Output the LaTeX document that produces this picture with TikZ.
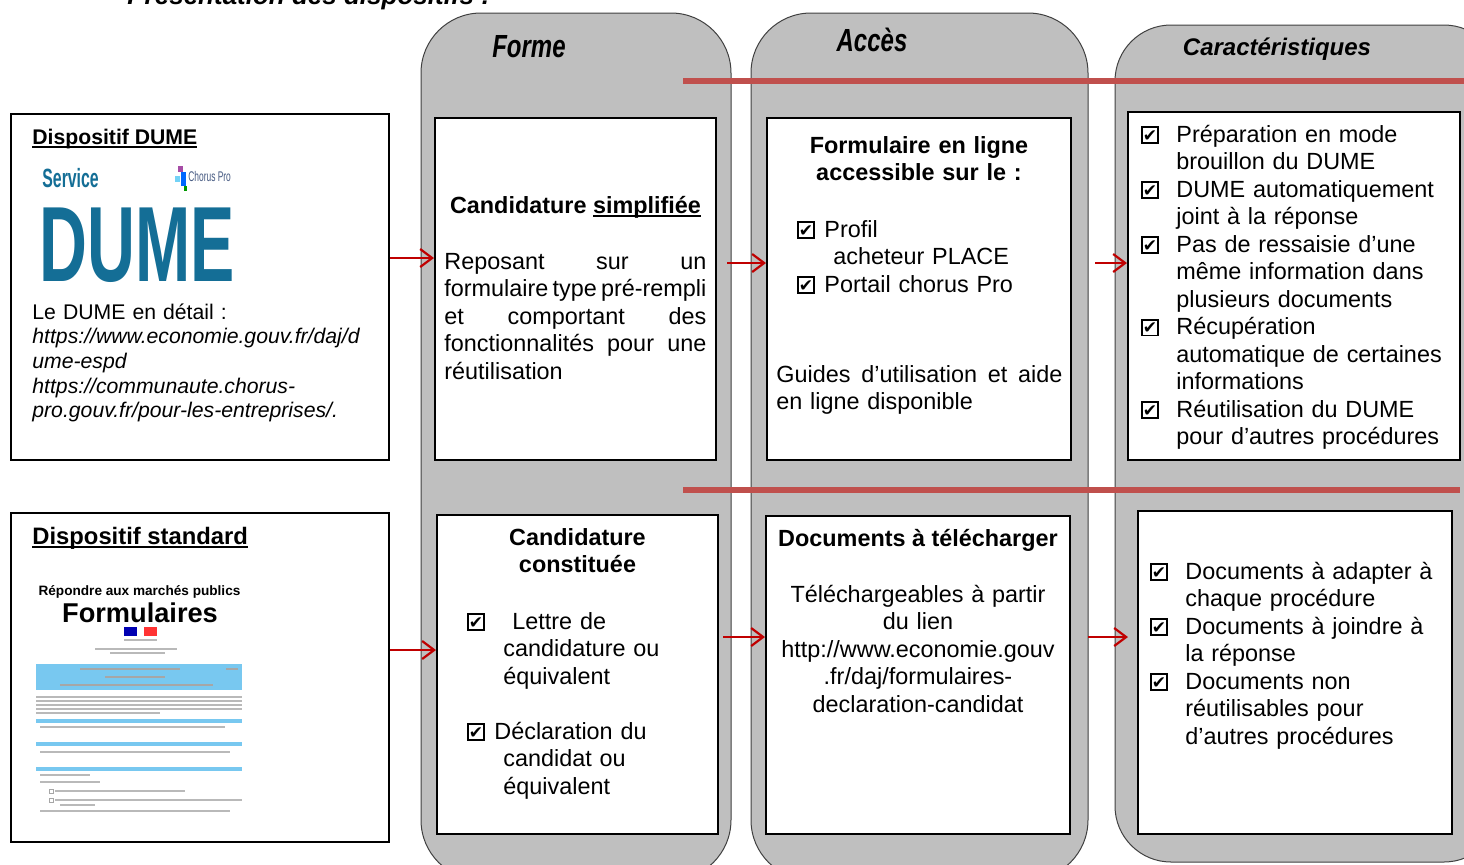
\documentclass[tikz,border=0pt]{standalone}
\usepackage{fontspec}
\setmainfont{Liberation Sans}
\newfontfamily\symfont{DejaVu Sans}
\usetikzlibrary{arrows.meta}
\definecolor{colgray}{RGB}{191,191,191}
\definecolor{sepred}{RGB}{192,80,77}
\definecolor{arrowred}{RGB}{192,0,0}
\definecolor{dumeblue}{RGB}{20,110,150}
\definecolor{formblue}{RGB}{120,200,240}
\definecolor{chorusgray}{RGB}{70,90,130}
\newcommand\bodyfont{\fontsize{11.7}{13.75}\selectfont}
\newcommand\ckbox{{\setlength\fboxsep{0pt}\setlength\fboxrule{0.85pt}\fbox{\makebox[7pt]{\rule{0pt}{7pt}\raisebox{0.4pt}{\symfont\fontsize{8.5}{8.5}\selectfont ✔}}}}}
\newcommand\cb[1]{\makebox[#1][l]{\ckbox}}
\newcommand\ind[1]{\hspace*{#1}}
\newcommand\uln[1]{\setbox0\hbox{#1}\rlap{\rule[-1.8pt]{\wd0}{0.9pt}}\box0}

\begin{document}
\begin{tikzpicture}[x=0.5pt,y=-0.5pt,
    colbox/.style={draw=black!75,fill=colgray,line width=0.5pt,rounded corners=30pt,inner sep=0pt},
    whitebox/.style={draw=black,fill=white,line width=1pt,inner sep=0pt},
    hdr/.style={anchor=base,font=\bfseries\itshape\fontsize{16}{16}\selectfont},
    sepline/.style={draw=sepred,line width=3pt},
    formline/.style={draw=gray!55,line width=0.9pt},
    formbar/.style={fill=formblue,draw=none}]
  \useasboundingbox (0,0) rectangle (1464,864);
  \clip (0,0) rectangle (1464,864);

  % title, cut by the page
  \node[anchor=base west,inner sep=0pt,font=\bfseries\itshape\fontsize{13}{13}\selectfont] (title) at (127,4) {Présentation des dispositifs :};

  % the three columns
  \node[colbox,minimum width=155pt,minimum height=433.5pt] (colforme) at (576,446.5) {};
  \node[colbox,minimum width=168.5pt,minimum height=433.5pt] (colacces) at (919.5,446.5) {};
  \node[colbox,rounded corners=28pt,minimum width=192.5pt,minimum height=418.5pt] (colcarac) at (1307.5,443.5) {};
  \node[hdr] (hforme) at (529,57) {\scalebox{0.75}[1]{Forme}};
  \node[hdr] (hacces) at (872,51) {\scalebox{0.75}[1]{Accès}};
  \node[anchor=base,font=\bfseries\itshape\fontsize{12}{12}\selectfont] (hcarac) at (1277,55) {Caractéristiques};

  \draw[sepline] (683,81) -- (1464,81);
  \draw[sepline] (683,490) -- (1460,490);

  % boxes
  \begin{scope}[every node/.style={whitebox}]
    \node[minimum width=189pt,minimum height=173pt] (dume) at (200,287) {};
    \node[minimum width=189pt,minimum height=164.5pt] (standard) at (200,677.5) {};
    \node[minimum width=140.5pt,minimum height=171pt] (forme1) at (575.5,289) {};
    \node[minimum width=140.5pt,minimum height=159.5pt] (forme2) at (577.5,674.5) {};
    \node[minimum width=152pt,minimum height=171pt] (acces1) at (919,289) {};
    \node[minimum width=152pt,minimum height=159pt] (acces2) at (918,675) {};
    \node[minimum width=166pt,minimum height=174pt] (carac1) at (1294,286) {};
    \node[minimum width=157pt,minimum height=161.5pt] (carac2) at (1295,672.5) {};
  \end{scope}

  \begin{scope}[every node/.style={inner sep=0pt}]
    % Dispositif DUME
    \node[anchor=base west,font=\bfseries\fontsize{10.6}{10.6}\selectfont] (dumehead) at (32,144) {\uln{Dispositif DUME}};
    \node[anchor=base west,text=dumeblue,font=\bfseries\fontsize{13.2}{13.2}\selectfont] (service) at (42,187) {\scalebox{0.6}[1]{Service}};
    \node[anchor=base west,text=dumeblue,font=\bfseries\fontsize{53.5}{53.5}\selectfont] (dumelogo) at (39,281) {\scalebox{0.62}[1]{DUME}};
    \fill[violet!70] (178,166) rectangle (183,172);
    \fill[cyan!55] (175,176) rectangle (180,182);
    \fill[blue!60!cyan] (181,172) rectangle (186,186);
    \fill[green!60!black] (184,186) rectangle (187,191);
    \node[anchor=base west,text=chorusgray,font=\fontsize{7}{7}\selectfont] (chorus) at (188,181) {\scalebox{0.6}[1]{Chorus Pro}};
    \node[anchor=base west,text width=180pt,align=left,font=\fontsize{10.6}{12.35}\selectfont] (dumetext) at (32,319) {Le DUME en détail :\\ \textit{https://www.economie.gouv.fr/daj/d}\\ \textit{ume-espd}\\ \textit{https://communaute.chorus-}\\ \textit{pro.gouv.fr/pour-les-entreprises/.}};

    % Dispositif standard
    \node[anchor=base west,font=\bfseries\fontsize{11.9}{11.9}\selectfont] (standardhead) at (32,544) {\uln{Dispositif standard}};
    \node[font=\bfseries\fontsize{6.8}{6.8}\selectfont] (formsub) at (139.5,592) {Répondre aux marchés publics};
    \node[font=\bfseries\fontsize{13.6}{13.6}\selectfont] (formtitle) at (140,613) {Formulaires};
    \fill[blue!70!black] (124,627) rectangle (137,636);
    \fill[red!80] (144,627) rectangle (157,636);
    \draw[formline] (124,640) -- (157,640) (95,649) -- (177,649) (110,653) -- (165,653);
    \fill[formblue] (36,664) rectangle (242,690);
    \draw[formline,draw=gray!70] (80,669) -- (180,669) (226,669) -- (238,669) (105,677) -- (165,677) (60,685) -- (213,685);
    \draw[formline] (36,697) -- (242,697) (36,701) -- (242,701) (36,705) -- (242,705) (36,709) -- (242,709) (36,713) -- (160,713);
    \fill[formblue] (36,719) rectangle (242,723);
    \draw[formline] (40,727) -- (225,727);
    \fill[formblue] (36,742) rectangle (242,746);
    \draw[formline] (40,752) -- (230,752);
    \fill[formblue] (36,767) rectangle (242,771);
    \draw[formline] (40,775) -- (90,775) (40,782) -- (100,782) (55,791) -- (185,791) (55,800) -- (242,800) (60,805) -- (95,805) (40,811) -- (230,811);
    \draw[gray!70,line width=0.4pt] (49,789) rectangle (53,793) (49,798) rectangle (53,802);

    % column Forme
    \node[anchor=base,font=\bodyfont\bfseries] (forme1head) at (575.5,213) {Candidature \uln{simplifiée}};
    \node[anchor=base west,text width=131pt,align=left,font=\bodyfont] (forme1text) at (444,269) {\makebox[131pt]{Reposant\hfill sur\hfill un}\\ \makebox[131pt]{formulaire\hfill type\hfill pré-rempli}\\ \makebox[131pt]{et\hfill comportant\hfill des}\\ \makebox[131pt]{fonctionnalités\hfill pour\hfill une}\\ réutilisation};
    \node[anchor=base,text width=140pt,align=center,font=\bodyfont\bfseries] (forme2head) at (577.5,545) {Candidature\\constituée};
    \node[anchor=base west,text width=125pt,align=left,font=\bodyfont] (forme2list) at (467,629) {\cb{22.5pt}Lettre de\\ \ind{18pt}candidature ou\\ \ind{18pt}équivalent\\[13.75pt] \cb{13.5pt}Déclaration du\\ \ind{18pt}candidat ou\\ \ind{18pt}équivalent};

    % column Acces
    \node[anchor=base,text width=150pt,align=center,font=\bodyfont\bfseries] (acces1head) at (919,153) {Formulaire en ligne\\accessible sur le :};
    \node[anchor=base west,text width=130pt,align=left,font=\bodyfont] (acces1list) at (797,237) {\cb{13.5pt}Profil\\ \ind{18pt}acheteur PLACE\\ \cb{13.5pt}Portail chorus Pro};
    \node[anchor=base west,text width=143pt,align=left,font=\bodyfont] (acces1text) at (776,382) {\makebox[143pt]{Guides\hfill d’utilisation\hfill et\hfill aide}\\ en ligne disponible};
    \node[anchor=base,font=\bodyfont\bfseries] (acces2head) at (918,546) {Documents à télécharger};
    \node[anchor=base,text width=150pt,align=center,font=\bodyfont] (acces2text) at (918,602) {Téléchargeables à partir\\du lien\\http://www.economie.gouv\\.fr/daj/formulaires-\\declaration-candidat};

    % column Caracteristiques
    \node[anchor=base west,text width=160pt,align=left,font=\bodyfont] (carac1list) at (1141,142) {\cb{17.5pt}Préparation en mode\\ \ind{17.5pt}brouillon du DUME\\ \cb{17.5pt}DUME automatiquement\\ \ind{17.5pt}joint à la réponse\\ \cb{17.5pt}Pas de ressaisie d’une\\ \ind{17.5pt}même information dans\\ \ind{17.5pt}plusieurs documents\\ \cb{17.5pt}Récupération\\ \ind{17.5pt}automatique de certaines\\ \ind{17.5pt}informations\\ \cb{17.5pt}Réutilisation du DUME\\ \ind{17.5pt}pour d’autres procédures};
    \node[anchor=base west,text width=150pt,align=left,font=\bodyfont] (carac2list) at (1150,579) {\cb{17.5pt}Documents à adapter à\\ \ind{17.5pt}chaque procédure\\ \cb{17.5pt}Documents à joindre à\\ \ind{17.5pt}la réponse\\ \cb{17.5pt}Documents non\\ \ind{17.5pt}réutilisables pour\\ \ind{17.5pt}d’autres procédures};
  \end{scope}

  % arrows
  \begin{scope}[>={Straight Barb[length=6pt,width=9pt]},
      every edge/.style={draw=arrowred,line width=1.1pt}]
    \path [->] ([yshift=14.5pt]dume.east) edge ([yshift=15.5pt]forme1.west);
    \path [->] ([xshift=5pt,yshift=13pt]forme1.east) edge ([yshift=13pt]acces1.west);
    \path [->] ([xshift=11.5pt,yshift=13pt]acces1.east) edge ([yshift=11.5pt]carac1.west);
    \path [->] ([yshift=13.75pt]standard.east) edge ([yshift=12.25pt]forme2.west);
    \path [->] ([xshift=2pt,yshift=18.75pt]forme2.east) edge ([yshift=19pt]acces2.west);
    \path [->] ([xshift=8.5pt,yshift=19pt]acces2.east) edge ([xshift=-4.5pt,yshift=17.75pt]carac2.west);
  \end{scope}
\end{tikzpicture}
\end{document}
